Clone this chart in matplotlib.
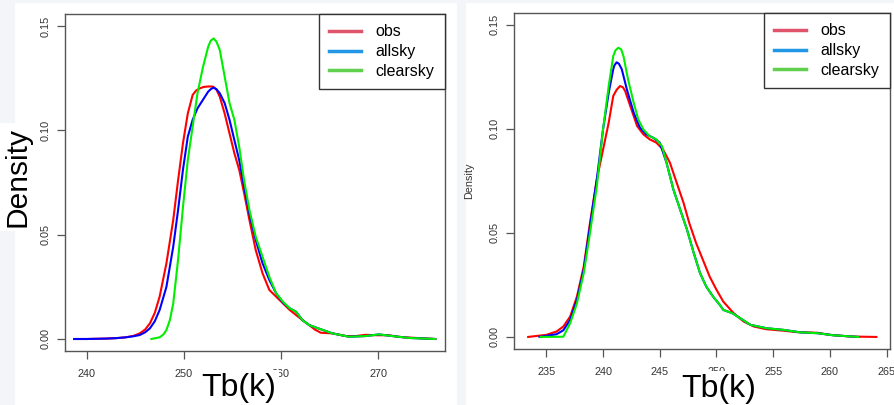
import matplotlib
matplotlib.use("Agg")
import matplotlib.pyplot as plt
from matplotlib.lines import Line2D
from matplotlib.patches import Rectangle

plt.rcParams['font.family'] = ['Liberation Sans', 'DejaVu Sans']

# ---- left panel (density of Tb) ----
left_obs_x = [238.7, 240.0, 242.0, 243.0, 244.0, 244.8, 245.45, 246.0, 246.5, 247.0, 247.5, 248.2,
              248.9, 249.4, 249.9, 250.4, 250.9, 251.25, 251.6, 252.0, 252.3, 252.65, 253.0, 253.35,
              253.7, 254.2, 254.7, 255.2, 255.7, 256.2, 256.75, 257.4, 258.1, 258.8, 259.5, 260.2,
              260.9, 261.55, 262.2, 262.9, 263.5, 264.1, 265.3, 266.7, 267.7, 268.7, 269.9, 271.1,
              272.2, 273.9, 275.9]
left_obs_y = [0.0, 0.0, 0.0002, 0.0004, 0.0008, 0.0015, 0.0027, 0.0045, 0.0075, 0.0125, 0.0203, 0.0363,
              0.057, 0.076, 0.0937, 0.108, 0.1169, 0.1190, 0.120, 0.1207, 0.1209, 0.1210, 0.1209, 0.1195,
              0.116, 0.108, 0.0985, 0.089, 0.081, 0.070, 0.057, 0.0426, 0.0315, 0.0235, 0.0203, 0.0171,
              0.0139, 0.0115, 0.0091, 0.0067, 0.0045, 0.003, 0.0027, 0.0014, 0.0014, 0.002, 0.0018, 0.0018,
              0.001, 0.0005, 0.0]

left_all_x = [238.7, 240.0, 242.0, 243.0, 244.0, 244.8, 245.45, 246.0, 246.5, 247.0, 247.5, 248.2,
              248.9, 249.4, 249.9, 250.4, 250.9, 251.4, 251.95, 252.5, 252.8, 253.05, 253.35, 253.7,
              254.2, 254.7, 255.2, 255.7, 256.2, 256.75, 257.4, 258.1, 258.8, 259.5, 260.2, 260.9,
              261.55, 262.2, 262.9, 263.9, 265.3, 267.0, 268.7, 270.1, 271.5, 273.2, 275.9]
left_all_y = [0.0, 0.0, 0.0002, 0.0004, 0.0008, 0.0013, 0.0019, 0.0032, 0.0051, 0.0085, 0.0139, 0.025,
              0.0442, 0.0618, 0.081, 0.0969, 0.105, 0.1105, 0.1145, 0.1185, 0.1198, 0.1204, 0.1197, 0.1177,
              0.113, 0.105, 0.0953, 0.0857, 0.073, 0.060, 0.0474, 0.0363, 0.0283, 0.0219, 0.0175, 0.0147,
              0.0131, 0.0091, 0.0067, 0.005, 0.0027, 0.0011, 0.0014, 0.0022, 0.0014, 0.0005, 0.0]

left_clr_x = [246.65, 247.5, 247.9, 248.2, 248.55, 248.9, 249.4, 249.9, 250.4, 250.9, 251.4, 251.95,
              252.5, 252.75, 253.05, 253.35, 253.7, 254.2, 254.7, 255.2, 255.7, 256.2, 256.75, 257.4,
              258.1, 258.8, 259.5, 260.2, 260.9, 261.55, 262.2, 262.9, 263.9, 265.3, 267.0, 268.7,
              270.1, 271.5, 273.2, 275.9]
left_clr_y = [0.0, 0.0008, 0.0022, 0.0043, 0.009, 0.017, 0.038, 0.063, 0.0857, 0.1017, 0.1177, 0.130,
              0.140, 0.1428, 0.144, 0.1425, 0.1384, 0.1257, 0.113, 0.105, 0.092, 0.076, 0.0618, 0.049,
              0.0394, 0.0298, 0.0219, 0.0179, 0.0147, 0.0131, 0.0091, 0.0067, 0.005, 0.0027, 0.0011, 0.0014,
              0.0022, 0.0014, 0.0005, 0.0]

# ---- right panel ----
right_obs_x = [233.4, 235.0, 235.9, 236.5, 237.1, 237.7, 238.3, 238.85, 239.45, 240.0, 240.5, 240.9,
               241.2, 241.5, 241.75, 241.95, 242.4, 243.0, 243.55, 244.1, 244.7, 245.3, 245.9, 246.5,
               247.1, 247.6, 248.2, 248.8, 249.4, 250.0, 250.6, 251.5, 252.4, 253.3, 254.4, 255.9,
               257.1, 258.9, 260.0, 261.8, 264.1]
right_obs_y = [0.0, 0.001, 0.0026, 0.005, 0.0098, 0.0194, 0.0339, 0.0548, 0.0757, 0.090, 0.103, 0.1158,
               0.1188, 0.1206, 0.1200, 0.1182, 0.111, 0.1014, 0.0974, 0.095, 0.0934, 0.090, 0.0837, 0.074,
               0.0644, 0.0548, 0.0452, 0.0371, 0.029, 0.0227, 0.017, 0.0115, 0.0074, 0.005, 0.0037, 0.003,
               0.0023, 0.002, 0.001, 0.0002, 0.0]

right_all_x = [234.4, 235.9, 236.5, 237.1, 237.7, 238.3, 238.85, 239.45, 240.0, 240.5, 240.9, 241.0,
               241.2, 241.4, 241.65, 242.1, 242.7, 243.25, 243.8, 244.4, 245.0, 245.6, 246.2, 246.8,
               247.4, 248.0, 248.55, 249.1, 249.7, 250.3, 250.6, 251.4, 252.1, 253.0, 254.4, 255.9,
               257.4, 258.9, 260.3, 262.5]
right_all_y = [0.0, 0.0013, 0.0032, 0.0082, 0.0178, 0.0323, 0.0532, 0.0757, 0.0998, 0.1174, 0.1287, 0.1305,
               0.132, 0.1313, 0.1287, 0.119, 0.1078, 0.1006, 0.0974, 0.0958, 0.0934, 0.0837, 0.0709, 0.0612,
               0.0516, 0.0403, 0.0307, 0.0242, 0.0194, 0.0154, 0.013, 0.0114, 0.009, 0.0058, 0.0042, 0.0034,
               0.0022, 0.0018, 0.0008, 0.0]

right_clr_x = [234.5, 236.5, 237.1, 237.7, 238.3, 238.85, 239.45, 240.0, 240.5, 240.9, 241.1, 241.35,
               241.6, 241.8, 242.2, 242.7, 243.1, 243.55, 244.1, 244.7, 245.2, 245.6, 246.2, 246.8,
               247.4, 248.0, 248.55, 249.1, 249.7, 250.3, 250.6, 251.4, 252.1, 253.0, 254.4, 255.9,
               257.4, 258.9, 260.3, 262.5]
right_clr_y = [0.0, 0.0001, 0.0066, 0.0162, 0.0307, 0.050, 0.0724, 0.0998, 0.1206, 0.135, 0.1378, 0.139,
               0.1382, 0.135, 0.1239, 0.1126, 0.1046, 0.0998, 0.0965, 0.095, 0.0917, 0.0837, 0.0709, 0.0612,
               0.0516, 0.0403, 0.0307, 0.0242, 0.0194, 0.0154, 0.013, 0.0114, 0.009, 0.0058, 0.0042, 0.0034,
               0.0022, 0.0018, 0.0008, 0.0]

labels = ['obs', 'allsky', 'clearsky']
curve_colors = ['#ff0000', '#0000ff', '#00ee00']
legend_colors = ['#DF536B', '#2297E6', '#61D04F']
yticks = [0.0, 0.05, 0.10, 0.15]
left_xticks = [240, 250, 260, 270]
right_xticks = [235, 240, 245, 250, 255, 260, 265]

W, H = 894, 405
fig = plt.figure(figsize=(W / 100, H / 100), dpi=100)
fig.patch.set_facecolor('white')

# light gray page strips
strip = '#f3f5f8'
for x0, w in [(0, 14), (457, 8)]:
    fig.patches.append(Rectangle((x0 / W, 0), w / W, 1, transform=fig.transFigure,
                                 color=strip, zorder=0))
fig.patches.append(Rectangle((0, 1 - 2 / H), 1, 2 / H, transform=fig.transFigure,
                             color=strip, zorder=0))


def make_panel(rect, xlim, ylim, xticks, curves):
    l, t, r, b = rect
    ax = fig.add_axes([l / W, 1 - b / H, (r - l) / W, (b - t) / H])
    for (x, y), c in zip(curves, curve_colors):
        ax.plot(x, y, color=c, lw=1.5, solid_joinstyle='round')
    ax.set_xlim(*xlim)
    ax.set_ylim(*ylim)
    ax.set_xticks(xticks)
    ax.set_yticks(yticks)
    ax.set_yticklabels(['%.2f' % v for v in yticks], rotation=90, va='center')
    for s in ax.spines.values():
        s.set_color('#555555')
        s.set_linewidth(1.0)
    ax.tick_params(direction='out', length=6, width=0.9, color='#555555',
                   labelsize=7.8, labelcolor='#333333')
    ax.tick_params(axis='x', pad=7)
    ax.tick_params(axis='y', pad=4)
    handles = [Line2D([], [], color=c, lw=2.5) for c in legend_colors]
    leg = ax.legend(handles, labels, loc='upper right', bbox_to_anchor=(1, 1),
                    borderaxespad=0, fancybox=False, framealpha=1, fontsize=11.5,
                    handlelength=2.0, handletextpad=0.9, labelspacing=0.3,
                    borderpad=0.65)
    leg.get_frame().set_edgecolor('#333333')
    leg.get_frame().set_linewidth(1.0)
    return ax


make_panel((65, 14, 445, 351), (237.75, 276.9), (-0.00575, 0.1557), left_xticks,
           [(left_obs_x, left_obs_y), (left_all_x, left_all_y), (left_clr_x, left_clr_y)])
make_panel((514, 13, 890, 349), (232.15, 265.3), (-0.0058, 0.1557), right_xticks,
           [(right_obs_x, right_obs_y), (right_all_x, right_all_y), (right_clr_x, right_clr_y)])

# axis titles
box = dict(facecolor='white', edgecolor='none', pad=2)
fig.text(238.5 / W, 1 - 396 / H, 'Tb(k)', fontsize=23, ha='center', va='baseline', bbox=box)
fig.text(718.5 / W, 1 - 397 / H, 'Tb(k)', fontsize=23, ha='center', va='baseline', bbox=box)
fig.text(18 / W, 1 - 177 / H, 'Density', fontsize=21.5, rotation=90, ha='center', va='center',
         bbox=dict(facecolor='white', edgecolor='none', pad=3))
fig.text(469 / W, 1 - 181 / H, 'Density', fontsize=7.8, rotation=90, ha='center', va='center',
         color='#333333')

fig.savefig('out.png', dpi=100)
